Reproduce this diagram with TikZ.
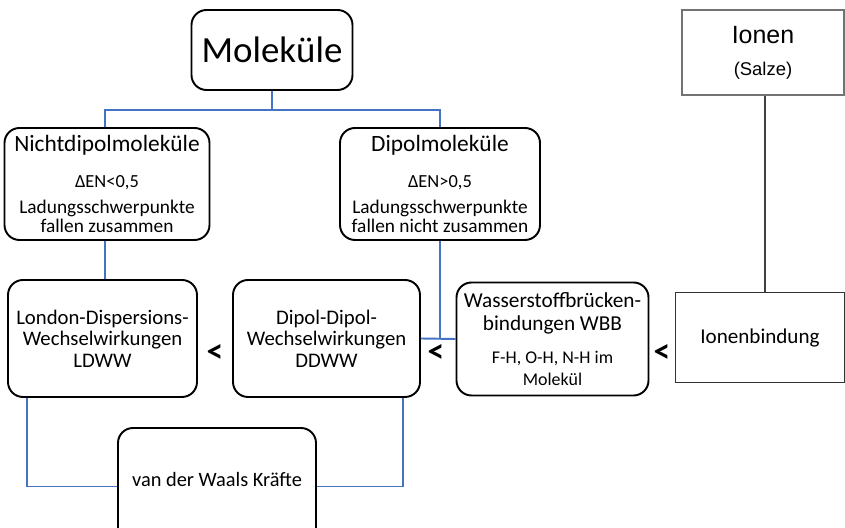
\documentclass[tikz,border=0pt]{standalone}
\usepackage{fontspec}
\setmainfont{Carlito}
\newfontfamily\arialfont{Liberation Sans}
\usepackage{tikz}
\usetikzlibrary{positioning}
\definecolor{linkblue}{RGB}{68,114,196}
\newcommand{\fsz}[2]{\fontsize{#1}{#2}\selectfont}
\tikzset{
  rbox/.style={draw, line width=1.1pt, rounded corners=3mm, align=center, inner sep=0pt},
  sbox/.style={draw=black!65, line width=0.6pt, align=center, inner sep=0pt},
  link/.style={draw=linkblue, line width=1.1pt},
  less/.style={font=\bfseries\fsz{19}{19}}
}

\begin{document}
\begin{tikzpicture}[x=0.2mm,y=-0.2mm]
      \useasboundingbox (0,0) rectangle (845,528);
      \node[rbox, minimum width=32.2mm, minimum height=16mm] at (272,50) (mol) {\fsz{21}{24}Moleküle};
      \node[rbox, minimum width=41mm, minimum height=22.4mm, font=\fsz{11}{10.8}] at (107,184) (ndm)
            {{\fsz{13.3}{10.8}Nichtdipolmoleküle}\\[9.6pt]{\fsz{10.5}{10.8}ΔEN<0,5}\\[4.5pt]Ladungsschwerpunkte\\fallen zusammen};
      \node[rbox, minimum width=40mm, minimum height=22.4mm, font=\fsz{11}{10.8}] at (440,184) (dm)
            {{\fsz{13.3}{10.8}Dipolmoleküle}\\[9.6pt]{\fsz{10.5}{10.8}ΔEN>0,5}\\[4.5pt]Ladungsschwerpunkte\\fallen nicht zusammen};
      \node[sbox, draw=black!55, minimum width=32.4mm, minimum height=17mm, font=\arialfont] at (763,52.5) (ion)
            {{\fsz{14.2}{12}Ionen}\\[6.4pt]{\fsz{10.5}{12}(Salze)}};
      \node[rbox, minimum width=37.8mm, minimum height=23.4mm, font=\fsz{11.8}{12.2}] at (102.5,338.5) (ldw)
            {London-Dispersions-\\Wechselwirkungen\\LDWW};
      \node[rbox, minimum width=37.4mm, minimum height=23.4mm, font=\fsz{11.8}{12.2}] at (326.5,338.5) (ddw)
            {Dipol-Dipol-\\Wechselwirkungen\\DDWW};
      \node[rbox, minimum width=38.4mm, minimum height=22.6mm, font=\fsz{12.1}{12.5}] at (552.5,339) (wbb)
            {Wasserstoffbrücken-\\[1.1pt]bindungen WBB\\[6.2pt]{\fsz{10.2}{12.5}F-H, O-H, N-H im}\\{\fsz{10.2}{12.5}Molekül}};
      \node[sbox, draw=black!80, minimum width=33.8mm, minimum height=18mm, font=\fsz{12}{14}] at (760,337.5) (ibd) {Ionenbindung};
      \node[rbox, minimum width=39.6mm, minimum height=23.4mm, text height=3mm, text depth=3mm, font=\fsz{11.6}{13}] at (217,486.5) (vdw) {van der Waals Kräfte};
      \node[less] at (215,354) (lt1) {<};
      \node[less] at (436,354) (lt2) {<};
      \node[less] at (662,354) (lt3) {<};
      \coordinate (split) at (272,110);
      \draw[link] (mol) -- (split) -| ([xshift=-0.4mm]ndm.north);
      \draw[link] (split) -| (dm);
      \draw[link] ([xshift=-0.4mm]ndm.south) -- ([xshift=-0.4mm]ndm.south |- ldw.north);
      \draw[link] (dm.south) -- (dm.south |- ddw.east);
      \draw[link] (ddw.east) -- (wbb.west);
      \draw[link] ([xshift=4mm]ldw.south west) |- (vdw.west);
      \draw[link] ([xshift=-3.6mm]ddw.south east) |- (vdw.east);
      \draw[black!75, line width=0.6pt] ([xshift=0.4mm]ion.south) -- ([xshift=0.4mm]ion.south |- ibd.north);
\end{tikzpicture}
\end{document}
